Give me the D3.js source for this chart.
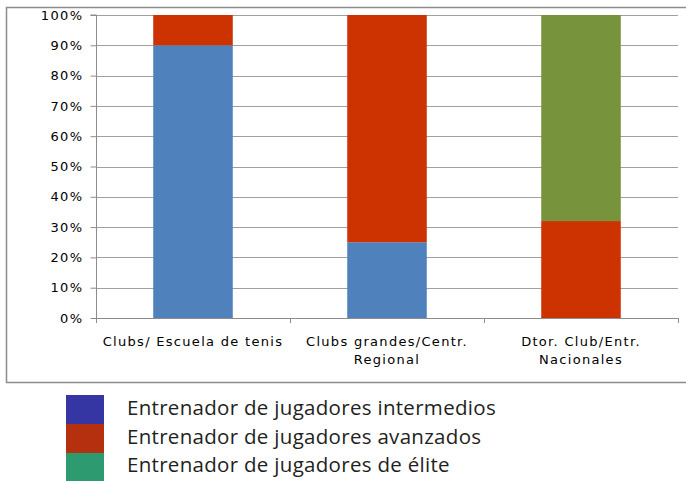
<!DOCTYPE html>
<html>
<head>
<meta charset="utf-8">
<script src="https://cdn.jsdelivr.net/npm/d3@7"></script>
<style>
  body { margin: 0; background: #fff; }
  svg { display: block; }
</style>
</head>
<body>
<div id="chart"></div>
<script>
const width = 686
const height = 481

// data
const categories = [
  ["Clubs/ Escuela de tenis"],
  ["Clubs grandes/Centr.", "Regional"],
  ["Dtor. Club/Entr.", "Nacionales"]
]
const intermedios = [90, 25, 0]
const avanzados   = [10, 75, 32]
const elite       = [0, 0, 68]
const seriesNames = [
  "Entrenador de jugadores intermedios",
  "Entrenador de jugadores avanzados",
  "Entrenador de jugadores de élite"
]
const barColors    = ["#4f81bd", "#cc3300", "#77933c"]
const legendColors = ["#3535a3", "#b5300f", "#2e9a70"]
const yTicks = [0, 10, 20, 30, 40, 50, 60, 70, 80, 90, 100]

const svg = d3.select("#chart").append("svg")
  .attr("width", width)
  .attr("height", height)

/* outer frame (right side runs off the picture) */
svg.append("path")
  .attr("d", "M700,7.5 H6.5 V382.5 H700")
  .attr("fill", "none")
  .attr("stroke", "#8c8c8c")
  .attr("stroke-width", 1.5)

const x = d3.scaleBand()
  .domain(d3.range(categories.length))
  .range([96, 678])
  .paddingInner(0.59)
  .paddingOuter(0.295)

const y = d3.scaleLinear()
  .domain([0, 100])
  .range([318, 15])

/* gridlines */
svg.append("g")
  .selectAll("line")
  .data(yTicks.filter(d => d > 0))
  .join("line")
  .attr("x1", 96).attr("x2", 678)
  .attr("y1", d => Math.round(y(d)) + 0.5)
  .attr("y2", d => Math.round(y(d)) + 0.5)
  .attr("stroke", "#a0a0a0")
  .attr("stroke-width", 1)

/* stacked bars */
const rows = categories.map((c, i) => ({
  i, intermedios: intermedios[i], avanzados: avanzados[i], elite: elite[i]
}))
const stack = d3.stack().keys(["intermedios", "avanzados", "elite"])(rows)

svg.append("g")
  .selectAll("g")
  .data(stack)
  .join("g")
  .attr("fill", (d, k) => barColors[k])
  .selectAll("rect")
  .data(d => d)
  .join("rect")
  .attr("x", d => x(d.data.i))
  .attr("width", x.bandwidth())
  .attr("y", d => y(d[1]))
  .attr("height", d => y(d[0]) - y(d[1]))

/* y axis */
const yAxis = svg.append("g")
  .attr("transform", "translate(96.5,0)")
  .call(d3.axisLeft(y).tickValues(yTicks).tickFormat(d => d + "%").tickSize(6).tickPadding(7))
yAxis.select(".domain").attr("stroke", "#8c8c8c").attr("d", `M-6,${y(100)}H0V${y(0)}`)
yAxis.selectAll(".tick line").attr("stroke", "#8c8c8c")
yAxis.selectAll("text")
  .attr("font-family", "DejaVu Sans, Verdana, sans-serif")
  .attr("font-size", 13)
  .attr("letter-spacing", 1.4)
  .attr("fill", "#000")

/* x axis */
const xAxisLine = svg.append("g")
xAxisLine.append("line")
  .attr("x1", 96).attr("x2", 678)
  .attr("y1", 318.5).attr("y2", 318.5)
  .attr("stroke", "#8c8c8c")
xAxisLine.selectAll(".xtick")
  .data(d3.range(categories.length + 1))
  .join("line")
  .attr("x1", d => Math.round(96 + d * x.step()) + 0.5)
  .attr("x2", d => Math.round(96 + d * x.step()) + 0.5)
  .attr("y1", 318).attr("y2", 323)
  .attr("stroke", "#8c8c8c")

svg.append("g")
  .selectAll("text")
  .data(categories)
  .join("text")
  .attr("x", (d, i) => x(i) + x.bandwidth() / 2)
  .attr("y", 346)
  .attr("text-anchor", "middle")
  .attr("font-family", "DejaVu Sans, Verdana, sans-serif")
  .attr("font-size", 13)
  .attr("letter-spacing", 1.3)
  .attr("fill", "#000")
  .selectAll("tspan")
  .data(d => d)
  .join("tspan")
  .attr("x", function() { return this.parentNode.getAttribute("x") })
  .attr("dy", (d, j) => j === 0 ? 0 : 18)
  .text(d => d)

/* legend */
const legend = svg.append("g")
legend.selectAll("rect")
  .data(seriesNames)
  .join("rect")
  .attr("x", 66)
  .attr("y", (d, i) => 395 + i * 29)
  .attr("width", 38)
  .attr("height", 29)
  .attr("fill", (d, i) => legendColors[i])
legend.selectAll("text")
  .data(seriesNames)
  .join("text")
  .attr("x", 127)
  .attr("y", (d, i) => 415 + i * 28.5)
  .attr("font-family", "Open Sans, Noto Sans, sans-serif")
  .attr("font-size", 20.5)
  .attr("letter-spacing", 0.3)
  .attr("fill", "#231f20")
  .text(d => d)
</script>
</body>
</html>
